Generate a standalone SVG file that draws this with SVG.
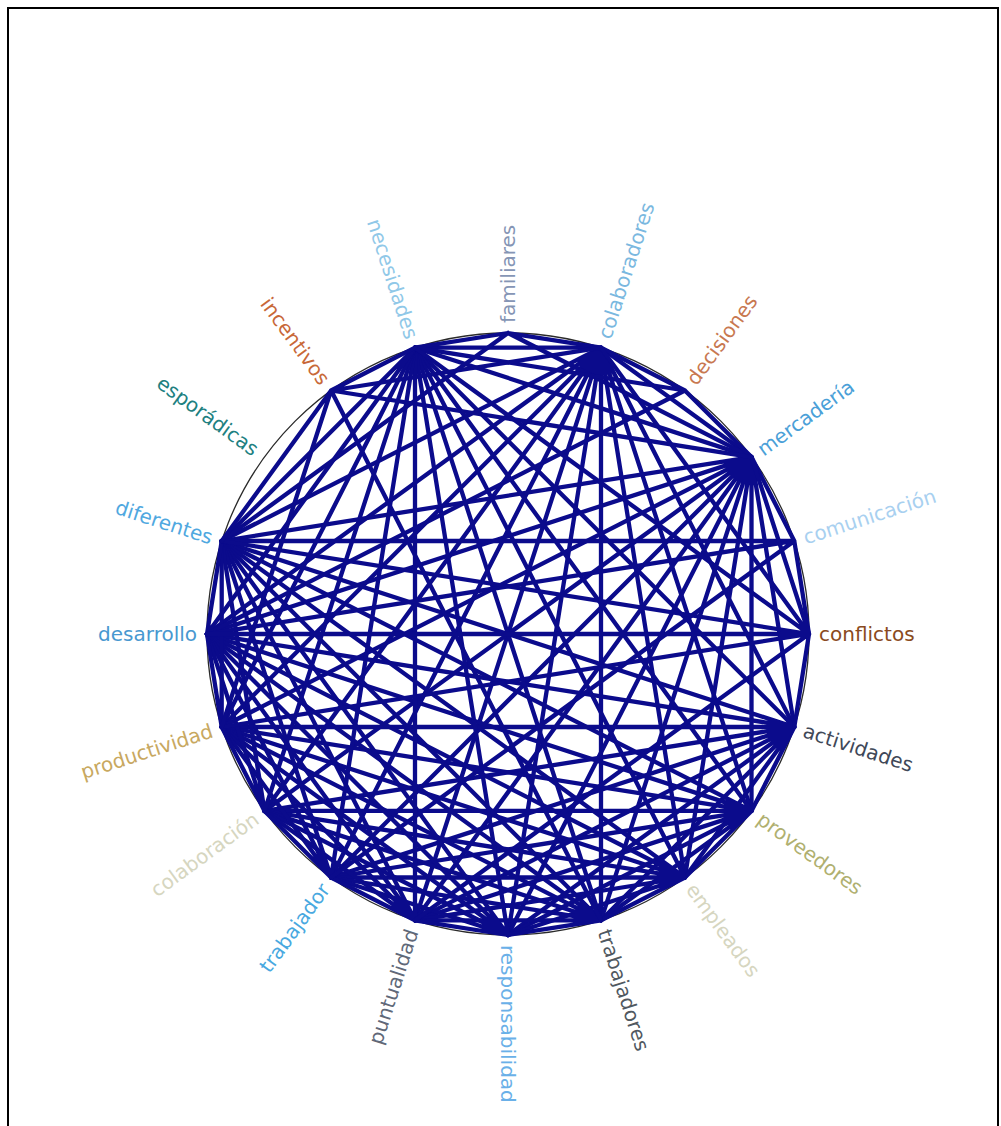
<svg xmlns="http://www.w3.org/2000/svg" width="1001" height="1126" viewBox="0 0 1001 1126">
<style>
.lbl{font-family:"DejaVu Sans",sans-serif;font-size:20px;dominant-baseline:central}
.r{text-anchor:start}
.l{text-anchor:end}
.e{fill:none;stroke:#0b0b8c;stroke-width:4.3;stroke-linecap:round}
</style>
<rect x="0" y="0" width="1001" height="1126" fill="#fff"/>
<rect x="8" y="8" width="990" height="1140" fill="none" stroke="#000" stroke-width="2"/>
<circle cx="508" cy="634" r="301" fill="none" stroke="#2a2a2a" stroke-width="1.3"/>
<g id="connectors" class="e">
<path d="M601,347.7L751.5,457.1M601,347.7L794.3,727M601,347.7L751.5,810.9M601,347.7L684.9,877.5M601,347.7L601,920.3M601,347.7L508,935M601,347.7L415,920.3M601,347.7L331.1,877.5M601,347.7L264.5,810.9M601,347.7L221.7,727M601,347.7L207,634M601,347.7L221.7,541M601,347.7L415,347.7"/>
<path d="M751.5,457.1L794.3,727M751.5,457.1L751.5,810.9M751.5,457.1L684.9,877.5M751.5,457.1L601,920.3M751.5,457.1L508,935M751.5,457.1L415,920.3M751.5,457.1L331.1,877.5M751.5,457.1L264.5,810.9M751.5,457.1L221.7,727M751.5,457.1L207,634M751.5,457.1L221.7,541M751.5,457.1L415,347.7"/>
<path d="M794.3,727L751.5,810.9M794.3,727L684.9,877.5M794.3,727L601,920.3M794.3,727L508,935M794.3,727L415,920.3M794.3,727L331.1,877.5M794.3,727L264.5,810.9M794.3,727L221.7,727M794.3,727L207,634M794.3,727L221.7,541M794.3,727L415,347.7"/>
<path d="M751.5,810.9L684.9,877.5M751.5,810.9L601,920.3M751.5,810.9L508,935M751.5,810.9L415,920.3M751.5,810.9L331.1,877.5M751.5,810.9L264.5,810.9M751.5,810.9L221.7,727M751.5,810.9L207,634M751.5,810.9L221.7,541M751.5,810.9L415,347.7"/>
<path d="M684.9,877.5L601,920.3M684.9,877.5L508,935M684.9,877.5L415,920.3M684.9,877.5L331.1,877.5M684.9,877.5L264.5,810.9M684.9,877.5L221.7,727M684.9,877.5L207,634M684.9,877.5L221.7,541M684.9,877.5L415,347.7"/>
<path d="M601,920.3L508,935M601,920.3L415,920.3M601,920.3L331.1,877.5M601,920.3L264.5,810.9M601,920.3L221.7,727M601,920.3L207,634M601,920.3L221.7,541M601,920.3L415,347.7"/>
<path d="M508,935L415,920.3M508,935L331.1,877.5M508,935L264.5,810.9M508,935L221.7,727M508,935L207,634M508,935L221.7,541M508,935L415,347.7"/>
<path d="M415,920.3L331.1,877.5M415,920.3L264.5,810.9M415,920.3L221.7,727M415,920.3L207,634M415,920.3L221.7,541M415,920.3L415,347.7"/>
<path d="M331.1,877.5L264.5,810.9M331.1,877.5L221.7,727M331.1,877.5L207,634M331.1,877.5L221.7,541M331.1,877.5L415,347.7"/>
<path d="M264.5,810.9L221.7,727M264.5,810.9L207,634M264.5,810.9L221.7,541M264.5,810.9L415,347.7"/>
<path d="M221.7,727L207,634M221.7,727L221.7,541M221.7,727L415,347.7"/>
<path d="M207,634L221.7,541M207,634L415,347.7M221.7,541L415,347.7"/>
<path d="M508,333L415,347.7M508,333L601,347.7M508,333L751.5,457.1M508,333L221.7,541"/>
<path d="M684.9,390.5L601,347.7M684.9,390.5L751.5,457.1M684.9,390.5L415,347.7M684.9,390.5L207,634"/>
<path d="M794.3,541L809,634M794.3,541L221.7,541M794.3,541L207,634M794.3,541L751.5,457.1M794.3,541L331.1,877.5"/>
<path d="M809,634L751.5,457.1M809,634L601,347.7M809,634L415,347.7M809,634L221.7,541M809,634L207,634M809,634L221.7,727M809,634L794.3,727M809,634L415,920.3"/>
<path d="M331.1,390.5L221.7,541M331.1,390.5L415,347.7M331.1,390.5L601,347.7M331.1,390.5L751.5,457.1M331.1,390.5L221.7,727M331.1,390.5L601,920.3"/>
</g>
<g id="n0"><text class="lbl r" transform="translate(508,323) rotate(-90)" fill="#8595b5">familiares</text></g>
<g id="n1"><text class="lbl r" transform="translate(604.1,338.2) rotate(-72)" fill="#7ab8e0">colaboradores</text></g>
<g id="n2"><text class="lbl r" transform="translate(690.8,382.4) rotate(-54)" fill="#c87850">decisiones</text></g>
<g id="n3"><text class="lbl r" transform="translate(759.6,451.2) rotate(-36)" fill="#4aa0d8">mercadería</text></g>
<g id="n4"><text class="lbl r" transform="translate(803.8,537.9) rotate(-18)" fill="#a8d0f0">comunicación</text></g>
<g id="n5"><text class="lbl r" transform="translate(819,634)" fill="#8a4a20">conflictos</text></g>
<g id="n6"><text class="lbl r" transform="translate(803.8,730.1) rotate(18)" fill="#404858">actividades</text></g>
<g id="n7"><text class="lbl r" transform="translate(759.6,816.8) rotate(36)" fill="#b0b070">proveedores</text></g>
<g id="n8"><text class="lbl r" transform="translate(690.8,885.6) rotate(54)" fill="#d6d6c0">empleados</text></g>
<g id="n9"><text class="lbl r" transform="translate(604.1,929.8) rotate(72)" fill="#505860">trabajadores</text></g>
<g id="n10"><text class="lbl r" transform="translate(508,945) rotate(90)" fill="#6ab0e8">responsabilidad</text></g>
<g id="n11"><text class="lbl l" transform="translate(411.9,929.8) rotate(-72)" fill="#606878">puntualidad</text></g>
<g id="n12"><text class="lbl l" transform="translate(325.2,885.6) rotate(-54)" fill="#48a8e0">trabajador</text></g>
<g id="n13"><text class="lbl l" transform="translate(256.4,816.8) rotate(-36)" fill="#d6d6c0">colaboración</text></g>
<g id="n14"><text class="lbl l" transform="translate(212.2,730.1) rotate(-18)" fill="#c8a860">productividad</text></g>
<g id="n15"><text class="lbl l" transform="translate(197,634)" fill="#4898d0">desarrollo</text></g>
<g id="n16"><text class="lbl l" transform="translate(212.2,537.9) rotate(18)" fill="#50a8e0">diferentes</text></g>
<g id="n17"><text class="lbl l" transform="translate(256.4,451.2) rotate(36)" fill="#208080">esporádicas</text></g>
<g id="n18"><text class="lbl l" transform="translate(325.2,382.4) rotate(54)" fill="#c86838">incentivos</text></g>
<g id="n19"><text class="lbl l" transform="translate(411.9,338.2) rotate(72)" fill="#90c8e8">necesidades</text></g>
</svg>
